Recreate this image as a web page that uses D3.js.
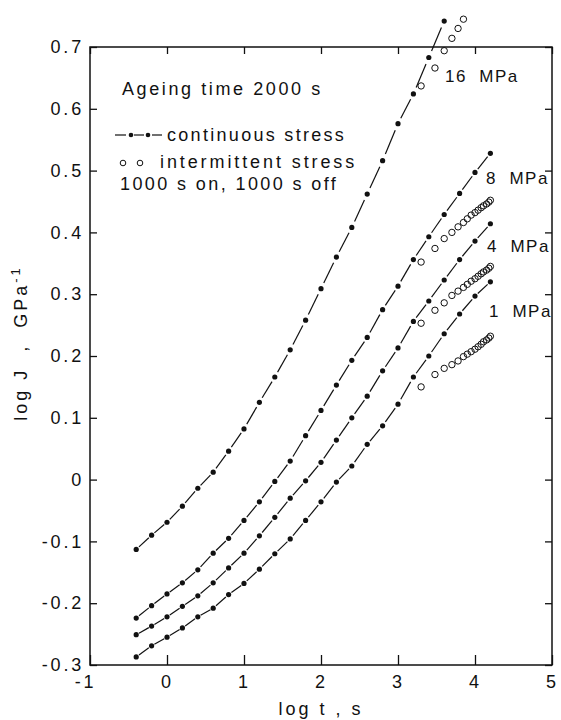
<!DOCTYPE html>
<html>
<head>
<meta charset="utf-8">
<script src="https://cdn.jsdelivr.net/npm/d3@7"></script>
<style>
  body { margin: 0; background: #fff; }
  text { font-family: "Liberation Sans", Arial, sans-serif; fill: #111; }
</style>
</head>
<body>
<svg id="chart" width="561" height="720"></svg>
<script>
// log t values (s) for continuous and intermittent runs
var logT = [-0.4, -0.2, 0, 0.2, 0.4, 0.6, 0.8, 1.0, 1.2, 1.4, 1.6, 1.8,
            2.0, 2.2, 2.4, 2.6, 2.8, 3.0, 3.2, 3.4, 3.6, 3.8, 4.0, 4.2];
var logTInt = [3.30, 3.48, 3.60, 3.70, 3.78, 3.85, 3.90, 3.95, 4.00,
               4.04, 4.08, 4.11, 4.15, 4.18, 4.20];

// continuous stress, log J
var cont16 = [-0.113, -0.090, -0.069, -0.043, -0.014, 0.012, 0.046, 0.082, 0.125, 0.166, 0.210,
              0.258, 0.309, 0.360, 0.408, 0.462, 0.516, 0.576, 0.624, 0.683, 0.742];
var cont8 = [-0.224, -0.204, -0.185, -0.167, -0.146, -0.119, -0.095, -0.066, -0.036, -0.003, 0.030, 0.071,
             0.112, 0.153, 0.193, 0.230, 0.275, 0.313, 0.356, 0.393, 0.429, 0.463, 0.497, 0.528];
var cont4 = [-0.251, -0.237, -0.222, -0.205, -0.188, -0.167, -0.143, -0.119, -0.091, -0.061, -0.030, -0.002,
             0.028, 0.064, 0.100, 0.135, 0.176, 0.213, 0.256, 0.289, 0.323, 0.356, 0.386, 0.414];
var cont1 = [-0.287, -0.269, -0.255, -0.240, -0.222, -0.208, -0.186, -0.168, -0.145, -0.120, -0.096, -0.066,
             -0.036, -0.004, 0.022, 0.057, 0.087, 0.122, 0.166, 0.200, 0.236, 0.268, 0.297, 0.320];

// intermittent stress, log J
var int16 = [0.637, 0.666, 0.694, 0.714, 0.730, 0.745];
var int8 = [0.352, 0.374, 0.390, 0.400, 0.409, 0.416, 0.422, 0.428, 0.432, 0.436, 0.440, 0.443, 0.446, 0.449, 0.452];
var int4 = [0.253, 0.274, 0.286, 0.298, 0.305, 0.311, 0.316, 0.321, 0.325, 0.329, 0.333, 0.336, 0.339, 0.342, 0.345];
var int1 = [0.150, 0.170, 0.180, 0.186, 0.192, 0.199, 0.203, 0.207, 0.211, 0.215, 0.219, 0.223, 0.226, 0.229, 0.232];

var xTicks = [-1, 0, 1, 2, 3, 4, 5];
var yTicks = [-0.3, -0.2, -0.1, 0, 0.1, 0.2, 0.3, 0.4, 0.5, 0.6, 0.7];
var stressLabels = ["16  MPa", "8  MPa", "4  MPa", "1  MPa"];

var svg = d3.select("#chart");

var x = d3.scaleLinear().domain([-1, 5]).range([90, 552]);
var y = d3.scaleLinear().domain([-0.3, 0.7]).range([665, 47]);

function series(xs, ys) {
  return ys.map(function(v, i) { return {x: xs[i], y: v}; });
}

var curves = [
  {cont: series(logT, cont16), inter: series(logTInt, int16), label: stressLabels[0]},
  {cont: series(logT, cont8), inter: series(logTInt, int8), label: stressLabels[1]},
  {cont: series(logT, cont4), inter: series(logTInt, int4), label: stressLabels[2]},
  {cont: series(logT, cont1), inter: series(logTInt, int1), label: stressLabels[3]}
];

// frame
svg.append("rect")
    .attr("x", x(-1)).attr("y", y(0.7))
    .attr("width", x(5) - x(-1)).attr("height", y(-0.3) - y(0.7))
    .attr("fill", "none").attr("stroke", "#111").attr("stroke-width", 1.5);

// axes, ticks pointing inward
var fmtY = function(d) { return d < 0 ? "-" + d3.format(".1f")(-d) : (d === 0 ? "0" : d3.format(".1f")(d)); };

var gx = svg.append("g")
    .attr("transform", "translate(0," + y(-0.3) + ")")
    .call(d3.axisBottom(x).tickValues(xTicks).tickSize(-10).tickSizeOuter(0).tickPadding(10)
          .tickFormat(function(d) { return d < 0 ? "-" + (-d) : d; }));
gx.selectAll("text").attr("dx", function(d) { return d < 0 ? "-5" : 0; });

var gy = svg.append("g")
    .attr("transform", "translate(" + x(-1) + ",0)")
    .call(d3.axisLeft(y).tickValues(yTicks).tickSize(-7).tickSizeOuter(0).tickPadding(6).tickFormat(fmtY));

svg.append("g")
    .attr("transform", "translate(0," + y(0.7) + ")")
    .call(d3.axisTop(x).tickValues(xTicks).tickSize(-7).tickSizeOuter(0).tickFormat(""));

svg.append("g")
    .attr("transform", "translate(" + x(5) + ",0)")
    .call(d3.axisRight(y).tickValues(yTicks).tickSize(-7).tickSizeOuter(0).tickFormat(""));

svg.selectAll(".domain").remove();
svg.selectAll(".tick line").attr("stroke", "#111").attr("stroke-width", 1.3);
svg.selectAll(".tick text")
    .attr("font-size", 18)
    .attr("letter-spacing", 2.8)
    .attr("fill", "#111")
    .style("font-family", "'Liberation Sans', Arial, sans-serif");

// dashed curves: one dash between each pair of points
var plot = svg.append("g");

curves.forEach(function(c) {
  var pts = c.cont;
  var segs = d3.pairs(pts);
  plot.append("g").selectAll("line")
      .data(segs)
    .enter().append("line")
      .attr("x1", function(d) { return x(d[0].x) + 0.18 * (x(d[1].x) - x(d[0].x)); })
      .attr("y1", function(d) { return y(d[0].y) + 0.18 * (y(d[1].y) - y(d[0].y)); })
      .attr("x2", function(d) { return x(d[0].x) + 0.82 * (x(d[1].x) - x(d[0].x)); })
      .attr("y2", function(d) { return y(d[0].y) + 0.82 * (y(d[1].y) - y(d[0].y)); })
      .attr("stroke", "#111")
      .attr("stroke-width", 1.2);

  plot.append("g").selectAll("circle")
      .data(pts)
    .enter().append("circle")
      .attr("cx", function(d) { return x(d.x); })
      .attr("cy", function(d) { return y(d.y); })
      .attr("r", 2.6)
      .attr("fill", "#111");

  plot.append("g").selectAll("circle")
      .data(c.inter)
    .enter().append("circle")
      .attr("cx", function(d) { return x(d.x); })
      .attr("cy", function(d) { return y(d.y); })
      .attr("r", 3.2)
      .attr("fill", "none")
      .attr("stroke", "#111")
      .attr("stroke-width", 1);
});

// stress labels on the right
var labelPos = [[445, 82], [486, 184], [487, 252], [489, 317]];
svg.selectAll(".slabel")
    .data(curves)
  .enter().append("text")
    .attr("class", "slabel")
    .attr("x", function(d, i) { return labelPos[i][0]; })
    .attr("y", function(d, i) { return labelPos[i][1]; })
    .attr("font-size", 17)
    .attr("letter-spacing", 1.5)
    .style("white-space", "pre")
    .text(function(d) { return d.label; });

// legend
var leg = svg.append("g");
leg.append("text").attr("x", 122).attr("y", 95)
    .attr("font-size", 18).attr("letter-spacing", 2.6)
    .text("Ageing time 2000 s");

var ly = 135;
[[115, 126], [134, 144], [152, 162]].forEach(function(s) {
  leg.append("line").attr("x1", s[0]).attr("x2", s[1]).attr("y1", ly).attr("y2", ly)
      .attr("stroke", "#111").attr("stroke-width", 1.2);
});
[131, 148].forEach(function(cx) {
  leg.append("circle").attr("cx", cx).attr("cy", ly).attr("r", 2.3).attr("fill", "#111");
});
leg.append("text").attr("x", 167).attr("y", 141)
    .attr("font-size", 18).attr("letter-spacing", 2.3)
    .text("continuous stress");

[123, 140].forEach(function(cx) {
  leg.append("circle").attr("cx", cx).attr("cy", 163).attr("r", 2.8)
      .attr("fill", "none").attr("stroke", "#111").attr("stroke-width", 1);
});
leg.append("text").attr("x", 160).attr("y", 168)
    .attr("font-size", 18).attr("letter-spacing", 2.9)
    .text("intermittent stress");
leg.append("text").attr("x", 120).attr("y", 190)
    .attr("font-size", 18).attr("letter-spacing", 2.4)
    .text("1000 s on, 1000 s off");

// axis titles
svg.append("text")
    .attr("x", 321).attr("y", 715)
    .attr("text-anchor", "middle")
    .attr("font-size", 18).attr("letter-spacing", 3)
    .style("white-space", "pre")
    .text("log t , s");

var yt = svg.append("text")
    .attr("transform", "translate(27,343) rotate(-90)")
    .attr("text-anchor", "middle")
    .attr("font-size", 18).attr("letter-spacing", 3)
    .style("white-space", "pre");
yt.append("tspan").text("log J  ,  GPa");
yt.append("tspan").attr("dy", -7).attr("font-size", 13).text("-1");
</script>
</body>
</html>
